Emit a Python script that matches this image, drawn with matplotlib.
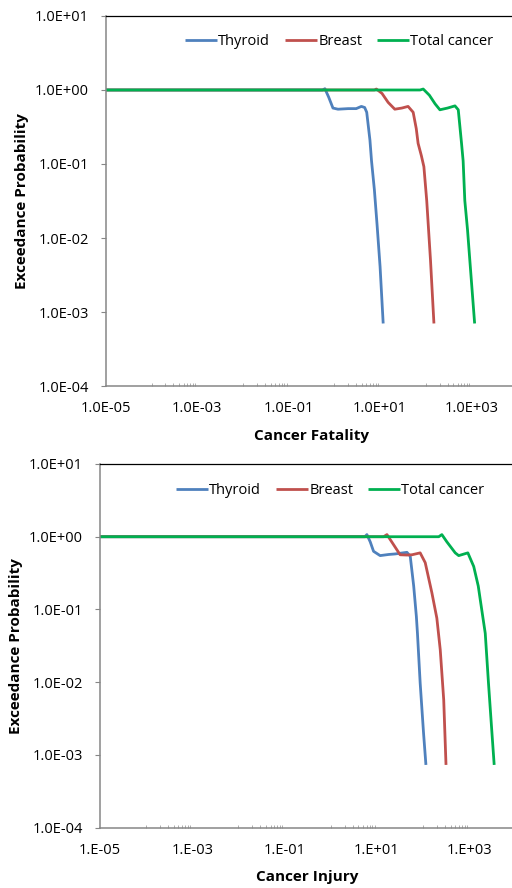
import numpy as np
import matplotlib
matplotlib.use("Agg")
import matplotlib.pyplot as plt
from matplotlib.ticker import FixedLocator, FuncFormatter, NullLocator, NullFormatter

plt.rcParams['font.family'] = ['Open Sans', 'DejaVu Sans']

# ---- Cancer fatality (top panel) ----
thyroid_fat_x = [1e-5, 0.55, 0.62, 0.75, 0.93, 1.2, 2.0, 3.0, 3.9, 4.6, 5.1, 6.0, 6.5, 7.5, 8.6, 10.0, 11.7]
thyroid_fat_y = [1, 1, 1.04, 0.8, 0.57, 0.55, 0.56, 0.56, 0.6, 0.58, 0.5, 0.21, 0.11, 0.045, 0.015, 0.0041, 0.0007]
breast_fat_x = [1e-5, 7.5, 8.3, 11, 15, 21, 30, 41, 53, 62, 68, 80, 91, 105, 127, 151]
breast_fat_y = [1, 1, 1.03, 0.9, 0.68, 0.55, 0.57, 0.6, 0.5, 0.3, 0.19, 0.13, 0.092, 0.032, 0.005, 0.0007]
total_fat_x = [1e-5, 75, 88, 120, 160, 204, 300, 436, 515, 607, 658, 716, 820, 922, 1175]
total_fat_y = [1, 1, 1.03, 0.85, 0.65, 0.54, 0.57, 0.61, 0.54, 0.19, 0.11, 0.032, 0.013, 0.005, 0.0007]

# ---- Cancer injury (bottom panel) ----
thyroid_inj_x = [1e-5, 5.5, 6.1, 7.2, 8.5, 11.8, 18, 25, 45, 53, 63, 72, 76, 87, 103, 116]
thyroid_inj_y = [1, 1, 1.07, 0.85, 0.63, 0.55, 0.57, 0.58, 0.61, 0.54, 0.21, 0.08, 0.047, 0.0098, 0.002, 0.00073]
breast_inj_x = [1e-5, 14, 16.6, 23, 32, 45, 58, 87, 112, 156, 200, 237, 282, 316]
breast_inj_y = [1, 1, 1.07, 0.78, 0.565, 0.56, 0.565, 0.6, 0.44, 0.17, 0.076, 0.028, 0.0057, 0.00073]
total_inj_x = [1e-5, 220, 257, 330, 501, 596, 940, 1260, 1580, 1750, 2240, 2630, 3130, 3500]
total_inj_y = [1, 1, 1.07, 0.85, 0.6, 0.55, 0.6, 0.39, 0.21, 0.135, 0.047, 0.0098, 0.002, 0.00073]

labels = ['Thyroid', 'Breast', 'Total cancer']
colors = ['#4F81BD', '#C0504D', '#00B050']

x_major = [1e-5, 1e-3, 1e-1, 1e1, 1e3]
x_minor = [k * 10.0 ** e for e in (-4, -2, 0, 2) for k in range(1, 11)]
y_major = [1e-4, 1e-3, 1e-2, 1e-1, 1e0, 1e1]


def sci_fmt(v, _):
    m, e = f"{v:.1E}".split("E")
    return f"{m}E{int(e):+03d}"


def sci_short(v, _):
    m, e = f"{v:.0E}".split("E")
    return f"{m}.E{int(e):+03d}"


def draw_panel(ax, series, xlabel, xfmt, leg_anchor):
    for (xs, ys), lab, c in zip(series, labels, colors):
        ax.plot(xs, ys, color=c, lw=2.0, label=lab, solid_capstyle='butt')
    ax.set_xscale('log')
    ax.set_yscale('log')
    ax.set_xlim(1e-5, 1e4)
    ax.set_ylim(1e-4, 1e1)
    ax.xaxis.set_major_locator(FixedLocator(x_major))
    ax.xaxis.set_minor_locator(FixedLocator(x_minor))
    ax.xaxis.set_major_formatter(FuncFormatter(xfmt))
    ax.xaxis.set_minor_formatter(NullFormatter())
    ax.yaxis.set_major_locator(FixedLocator(y_major))
    ax.yaxis.set_minor_locator(NullLocator())
    ax.yaxis.set_major_formatter(FuncFormatter(sci_fmt))
    ax.yaxis.set_minor_formatter(NullFormatter())
    ax.tick_params(axis='x', which='major', length=0, pad=11, labelsize=10.5)
    ax.tick_params(axis='x', which='minor', direction='in', length=2.5,
                   width=0.6, color='#A0A0A0')
    ax.tick_params(axis='y', which='major', direction='out', length=3.5,
                   width=0.8, color='#868686', pad=9, labelsize=10.5)
    for side in ('left', 'bottom'):
        ax.spines[side].set_color('#868686')
        ax.spines[side].set_linewidth(1.1)
    ax.spines['top'].set_color('black')
    ax.spines['top'].set_linewidth(0.9)
    ax.spines['right'].set_visible(False)
    ax.set_xlabel(xlabel, fontsize=11, fontweight='bold', labelpad=9)
    ax.set_ylabel('Exceedance Probability', fontsize=11, fontweight='bold', labelpad=4)
    ax.legend(loc='center', bbox_to_anchor=leg_anchor, ncol=3, frameon=False,
              fontsize=10.5, handlelength=2.2, handletextpad=0.1,
              columnspacing=1.0, borderaxespad=0)


fig = plt.figure(figsize=(5.12, 8.88), dpi=100)
ax1 = fig.add_axes([0.207, 0.5653, 0.803, 0.4167])
ax2 = fig.add_axes([0.1953, 0.0679, 0.811, 0.4096])

draw_panel(ax1, [(thyroid_fat_x, thyroid_fat_y), (breast_fat_x, breast_fat_y),
                 (total_fat_x, total_fat_y)], 'Cancer Fatality', sci_fmt, (0.567, 0.932))
draw_panel(ax2, [(thyroid_inj_x, thyroid_inj_y), (breast_inj_x, breast_inj_y),
                 (total_inj_x, total_inj_y)], 'Cancer Injury', sci_short, (0.554, 0.927))

fig.savefig('out.png', dpi=100)
